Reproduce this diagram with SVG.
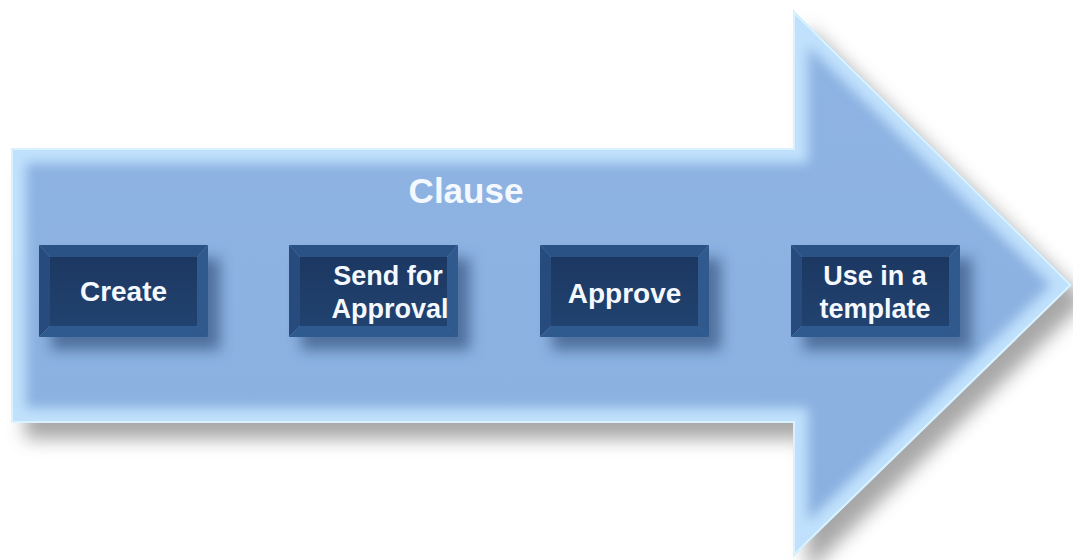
<svg xmlns="http://www.w3.org/2000/svg" width="1073" height="560" viewBox="0 0 1073 560">
<defs>
<style>
.lbl{font-family:"Liberation Sans","Open Sans",Arial,sans-serif;font-weight:700;fill:#f4f8ff;text-anchor:middle}
.f-top{fill:#2a5284}
.f-left{fill:#264b7c}
.f-right{fill:#30598d}
.f-bot{fill:#2f5a8f}
.f-mid{fill:url(#midg)}
</style>
<linearGradient id="midg" x1="0" y1="0" x2="0" y2="1">
<stop offset="0" stop-color="#1c3862"/>
<stop offset="1" stop-color="#21426f"/>
</linearGradient>
<linearGradient id="bodyg" x1="0" y1="0" x2="0" y2="1">
<stop offset="0" stop-color="#8fb4e3"/>
<stop offset="1" stop-color="#8ab0e0"/>
</linearGradient>
<filter id="blur8" x="-20%" y="-20%" width="140%" height="140%"><feGaussianBlur stdDeviation="9"/></filter>
<filter id="blur6" x="-20%" y="-20%" width="140%" height="140%"><feGaussianBlur stdDeviation="6"/></filter>
<filter id="blur4" x="-30%" y="-30%" width="160%" height="160%"><feGaussianBlur stdDeviation="7"/></filter>
<clipPath id="arrowclip"><polygon points="11,148 793,148 793,10 1072,285 793,557 793,423 11,423"/></clipPath>
</defs>
<rect width="1073" height="560" fill="#ffffff"/>
<g id="arrow">
<polygon points="11,148 793,148 793,10 1072,285 793,557 793,423 11,423" transform="translate(14,16)" fill="#8a8a8a" opacity="0.75" filter="url(#blur8)"/>
<polygon points="11,148 793,148 793,10 1072,285 793,557 793,423 11,423" fill="url(#bodyg)"/>
<g clip-path="url(#arrowclip)">
<polygon points="11,148 793,148 793,10 1072,285 793,557 793,423 11,423" fill="none" stroke="#c6e6ff" stroke-width="30" filter="url(#blur6)" opacity="0.9"/>
<polygon points="11,148 793,148 793,10 1072,285 793,557 793,423 11,423" fill="none" stroke="#d8f2ff" stroke-width="4"/>
</g>
<text class="lbl" x="466" y="203" font-size="35">Clause</text>
</g>
<g id="connectors"></g>
<g id="node-create">
<rect x="51" y="258" width="169" height="92" fill="#1d3a66" opacity="0.55" filter="url(#blur4)"/>
<polygon class="f-top" points="39,245 208,245 197,257 50,257"/>
<polygon class="f-left" points="39,245 50,257 50,326 39,337"/>
<polygon class="f-right" points="208,245 208,337 197,326 197,257"/>
<polygon class="f-bot" points="39,337 50,326 197,326 208,337"/>
<rect class="f-mid" x="50" y="257" width="147" height="69"/>
<text class="lbl" x="123.5" y="301" font-size="28">Create</text>
</g>
<g id="node-send">
<rect x="301" y="258" width="169" height="92" fill="#1d3a66" opacity="0.55" filter="url(#blur4)"/>
<polygon class="f-top" points="289,245 458,245 447,257 300,257"/>
<polygon class="f-left" points="289,245 300,257 300,326 289,337"/>
<polygon class="f-right" points="458,245 458,337 447,326 447,257"/>
<polygon class="f-bot" points="289,337 300,326 447,326 458,337"/>
<rect class="f-mid" x="300" y="257" width="147" height="69"/>
<text class="lbl" x="388" y="285" font-size="27">Send for</text>
<text class="lbl" x="390" y="318" font-size="27">Approval</text>
</g>
<g id="node-approve">
<rect x="552" y="258" width="169" height="92" fill="#1d3a66" opacity="0.55" filter="url(#blur4)"/>
<polygon class="f-top" points="540,245 709,245 698,257 551,257"/>
<polygon class="f-left" points="540,245 551,257 551,326 540,337"/>
<polygon class="f-right" points="709,245 709,337 698,326 698,257"/>
<polygon class="f-bot" points="540,337 551,326 698,326 709,337"/>
<rect class="f-mid" x="551" y="257" width="147" height="69"/>
<text class="lbl" x="624.5" y="303" font-size="28">Approve</text>
</g>
<g id="node-template">
<rect x="803" y="258" width="169" height="92" fill="#1d3a66" opacity="0.55" filter="url(#blur4)"/>
<polygon class="f-top" points="791,245 960,245 949,257 802,257"/>
<polygon class="f-left" points="791,245 802,257 802,326 791,337"/>
<polygon class="f-right" points="960,245 960,337 949,326 949,257"/>
<polygon class="f-bot" points="791,337 802,326 949,326 960,337"/>
<rect class="f-mid" x="802" y="257" width="147" height="69"/>
<text class="lbl" x="875" y="285" font-size="27">Use in a</text>
<text class="lbl" x="875" y="318" font-size="27">template</text>
</g>
</svg>
